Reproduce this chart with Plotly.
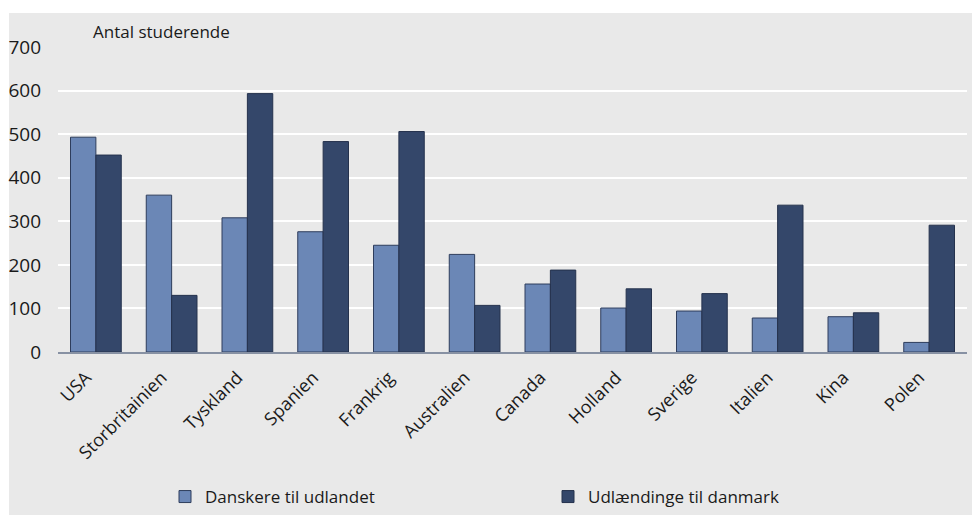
import plotly.graph_objects as go

categories = ["USA", "Storbritainien", "Tyskland", "Spanien", "Frankrig", "Australien",
              "Canada", "Holland", "Sverige", "Italien", "Kina", "Polen"]
danskere = [493, 360, 308, 276, 245, 224, 156, 101, 94, 78, 81, 22]
udlaendinge = [452, 130, 593, 483, 506, 107, 188, 145, 134, 337, 90, 291]
y_ticks = [0, 100, 200, 300, 400, 500, 600, 700]

FONT = "Open Sans"
OFF = 8                      # default page body margin offsets the figure
W, H = 980 - OFF, 515 - OFF  # figure size
L, R, T, B = 58 - OFF, 13, 47 - OFF, 163
pw, ph = W - L - R, H - T - B

fig = go.Figure()
fig.add_trace(go.Bar(x=categories, y=danskere, name="Danskere til udlandet",
                     marker=dict(color="#6b87b6", line=dict(color="#2e3d5c", width=1))))
fig.add_trace(go.Bar(x=categories, y=udlaendinge, name="Udlændinge til danmark",
                     marker=dict(color="#34476a", line=dict(color="#25324d", width=1))))

def px_x(p):  # page pixel -> paper fraction
    return (p - OFF - L) / pw

def px_y(p):
    return (H - B - (p - OFF)) / ph

fig.add_shape(type="rect", xref="paper", yref="paper", layer="below",
              x0=px_x(9), x1=px_x(990), y0=px_y(525), y1=px_y(13),
              fillcolor="#e9e9e9", line=dict(width=0))

fig.add_annotation(text="Antal studerende", xref="paper", yref="paper",
                   x=px_x(91), y=px_y(32), xanchor="left", yanchor="middle",
                   showarrow=False, font=dict(family=FONT, size=17, color="#1a1a1a"))

fig.update_layout(
    width=W, height=H,
    margin=dict(l=L, r=R, t=T, b=B, pad=0, autoexpand=False),
    paper_bgcolor="white",
    plot_bgcolor="#dcdcdc",
    barmode="group", bargap=0.33, bargroupgap=0,
    font=dict(family=FONT, size=17, color="#1a1a1a"),
    showlegend=True,
    legend=dict(orientation="h", xref="container", yref="container",
                x=(165 - OFF) / W, y=1 - (497 - OFF) / H, xanchor="left", yanchor="middle",
                entrywidth=338, entrywidthmode="pixels", bgcolor="rgba(0,0,0,0)",
                font=dict(family=FONT, size=17, color="#1a1a1a"), traceorder="normal"),
    xaxis=dict(tickangle=-45, showgrid=False, showline=True, linecolor="#8791a3",
               linewidth=2, ticks="", automargin=False, ticklabelshift=-10,
               ticklabelstandoff=6, tickfont=dict(family=FONT, size=18)),
    yaxis=dict(range=[0, 700], tickvals=y_ticks, showgrid=True, gridcolor="white",
               gridwidth=2, zeroline=False, ticks="", ticklabelstandoff=16, automargin=False,
               tickfont=dict(family=FONT, size=19)),
)

fig.write_html("out.html")
